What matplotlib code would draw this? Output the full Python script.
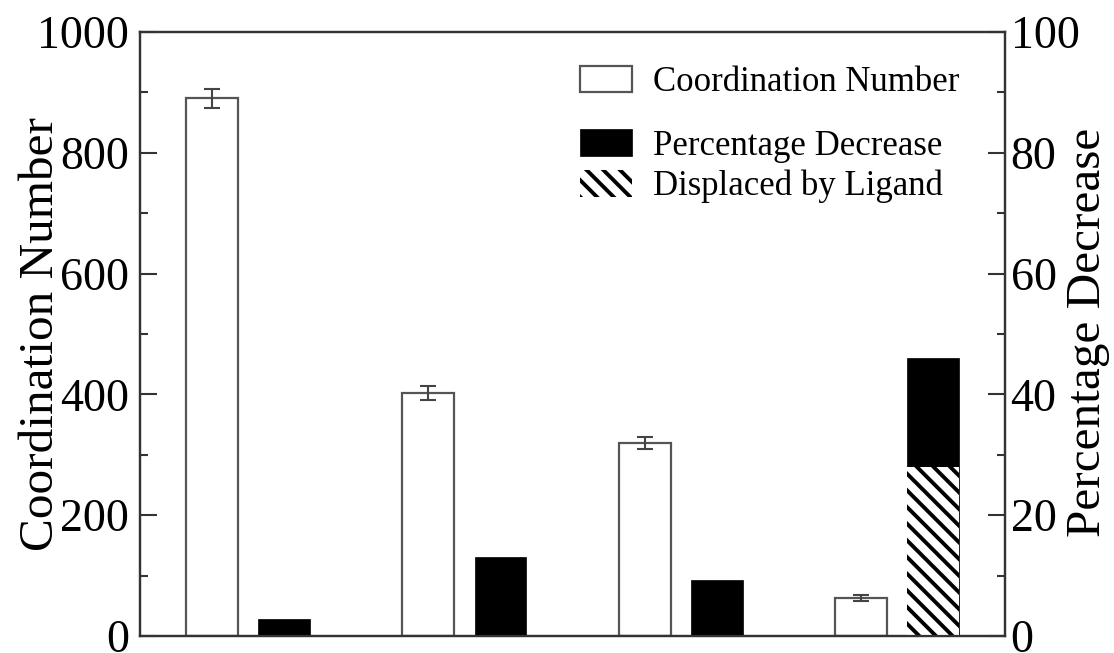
import numpy as np
import matplotlib.pyplot as plt

plt.rcParams["font.family"] = ["Liberation Serif", "DejaVu Serif"]
plt.rcParams["hatch.linewidth"] = 2.8

# Data
coord_number = [890, 402, 319, 63]
coord_err = [15, 12, 10, 5]
pct_decrease = [2.8, 13.0, 9.3, 46.0]
displaced = [0, 0, 0, 28.0]

groups = np.arange(len(coord_number))
width = 0.24

fig = plt.figure(figsize=(11.14, 6.53), dpi=100)
ax = fig.add_axes([0.1257, 0.026, 0.7765, 0.925])
ax2 = ax.twinx()

# white bars with error bars (left axis)
ax.bar(groups + 1/3, coord_number, width, yerr=coord_err,
       color="white", edgecolor="#555555", linewidth=1.6,
       error_kw=dict(ecolor="#444444", elinewidth=1.5, capsize=6, capthick=1.5),
       label="Coordination Number")

# black bars (right axis), hatched part = displaced by ligand
ax2.bar(groups + 2/3, pct_decrease, width, color="black",
        edgecolor="black", linewidth=0.5, label="Percentage Decrease")
hatched = [i for i in groups if displaced[i] > 0]
ax2.bar(groups[hatched] + 2/3, [displaced[i] for i in hatched], width,
        color="white", edgecolor="black", linewidth=0, hatch="\\\\",
        label="Displaced by Ligand")

ax.set_xlim(0, 4)
ax.set_ylim(0, 1000)
ax2.set_ylim(0, 100)

ax.set_xticks([])
ax.set_yticks(np.arange(0, 1001, 200))
ax.set_yticks(np.arange(100, 1000, 200), minor=True)
ax2.set_yticks(np.arange(0, 101, 20))
ax2.set_yticks(np.arange(10, 100, 20), minor=True)

for a in (ax, ax2):
    a.tick_params(axis="y", which="major", direction="in", length=12,
                  width=1.5, labelsize=33, colors="#333333", labelcolor="black")
    a.tick_params(axis="y", which="minor", direction="in", length=6,
                  width=1.5, colors="#333333")
    for s in a.spines.values():
        s.set_linewidth(1.6)
        s.set_color("#333333")
ax.tick_params(axis="y", pad=8)
ax2.tick_params(axis="y", pad=4)

ax.set_ylabel("Coordination Number", fontsize=35.5)
ax.yaxis.set_label_coords(-0.089, 0.5)
ax2.set_ylabel("Percentage Decrease", fontsize=35.5)
ax2.yaxis.set_label_coords(1.071, 0.503)

h1, l1 = ax.get_legend_handles_labels()
h2, l2 = ax2.get_legend_handles_labels()
leg1 = ax2.legend(h1, l1, loc="upper left", bbox_to_anchor=(0.509, 0.944),
                  frameon=False, fontsize=25, handlelength=1.5,
                  handleheight=0.8, handletextpad=0.6, borderpad=0,
                  borderaxespad=0)
ax2.add_artist(leg1)
ax2.legend(h2, l2, loc="upper left", bbox_to_anchor=(0.509, 0.839),
           frameon=False, fontsize=25, handlelength=1.5, handleheight=0.8,
           handletextpad=0.6, borderpad=0, borderaxespad=0, labelspacing=0.21)

plt.savefig("out.png", dpi=100)
